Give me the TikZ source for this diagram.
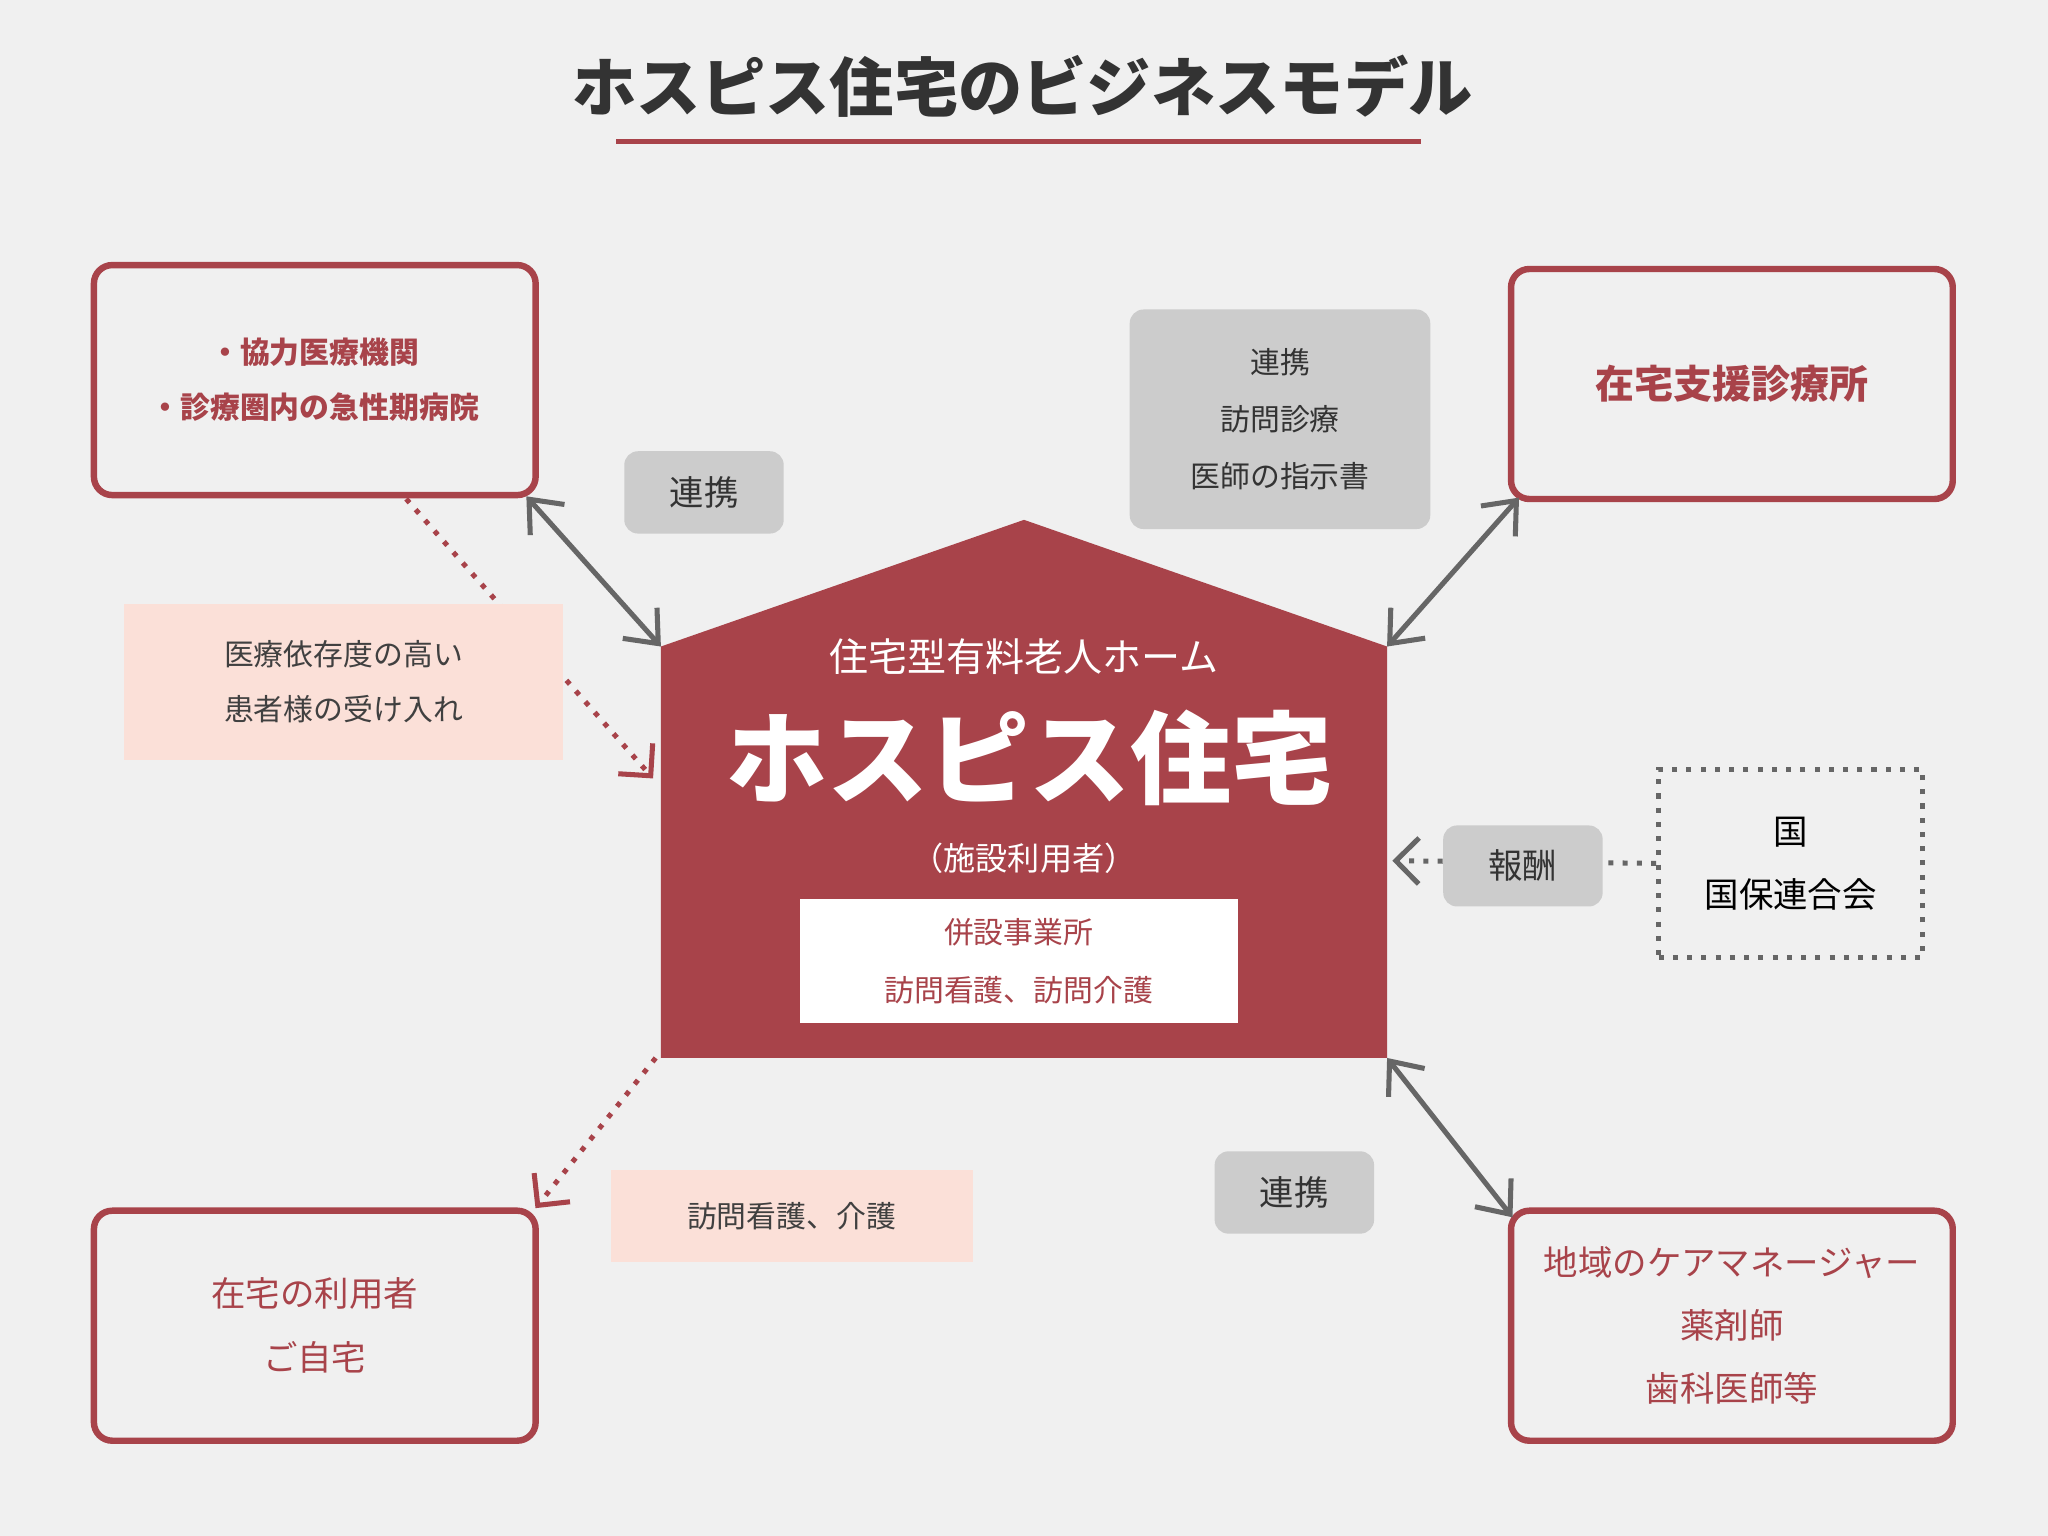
\documentclass[tikz,border=0pt]{standalone}
\usepackage{fontspec}
\setmainfont{Noto Sans CJK JP}
\usetikzlibrary{arrows.meta,positioning}
\definecolor{hred}{HTML}{A8434A}
\definecolor{bgray}{HTML}{F0F0F0}
\definecolor{lgray}{HTML}{CCCCCC}
\definecolor{pink}{HTML}{FBE0D8}
\definecolor{agray}{HTML}{666666}
\begin{document}
\begin{tikzpicture}[x=0.01cm,y=-0.01cm,
    box/.style={draw=hred,line width=1.4pt,rounded corners=4pt,
      text=hred,align=center,minimum width=3.38cm,minimum height=1.76cm},
    tag/.style={fill=lgray,rounded corners=3pt,align=center,font=\fontsize{7.5}{13}\selectfont,text=black!80},
    pinktag/.style={fill=pink,align=center,font=\fontsize{6.5}{12}\selectfont,text=black!75},
    link/.style={draw=agray,line width=1.1pt,{Straight Barb[length=6pt,width=10pt]}-{Straight Barb[length=6pt,width=10pt]}},
    redlink/.style={draw=hred,line width=1.1pt,dotted,-{Straight Barb[length=5pt,width=10pt]}},
    graylink/.style={draw=agray,line width=1.1pt,dotted,-{Straight Barb[length=5pt,width=10pt]}}]
    \fill[bgray] (0,0) rectangle (1568,1176);

    % title
    \node[text=black!80] (title) at (783,66) {\fontsize{14}{16}\selectfont\bfseries ホスピス住宅のビジネスモデル};
    \draw[hred,line width=1.1pt] (472,108) -- (1088,108);

    % house
    \fill[hred] (506,495) -- (784,398) -- (1062,495) -- (1062,810) -- (506,810) -- cycle;
    \coordinate (hTL) at (506,495);
    \coordinate (hTR) at (1062,495);
    \coordinate (hBL) at (502,810);
    \coordinate (hBR) at (1062,810);
    \coordinate (hL) at (500,596);
    \coordinate (hR) at (1066,659);
    \node[text=white] (sub) at (784,503) {\fontsize{8.5}{10}\selectfont 住宅型有料老人ホーム};
    \node[text=white] (main) at (788,580) {\fontsize{22}{26}\selectfont\bfseries ホスピス住宅};
    \node[text=white] (user) at (784,657) {\fontsize{7}{9}\selectfont （施設利用者）};
    \node[fill=white,text=hred,align=center,minimum width=3.35cm,minimum height=0.95cm,
      font=\fontsize{6.5}{12.5}\selectfont] (office) at (780,736) {併設事業所\\訪問看護、訪問介護};

    % boxes
    \node[box,font=\fontsize{6.5}{12}\selectfont\bfseries] (kyoryoku) at (241,291)
      {・協力医療機関\\ ・診療圏内の急性期病院};
    \node[box,font=\fontsize{8.5}{10}\selectfont\bfseries] (shinryo) at (1326,294) {在宅支援診療所};
    \node[box,font=\fontsize{7.5}{14}\selectfont] (jitaku) at (241,1015) {在宅の利用者\\ご自宅};
    \node[box,font=\fontsize{7.5}{13.7}\selectfont] (chiiki) at (1326,1015)
      {地域のケアマネージャー\\薬剤師\\歯科医師等};
    \node[draw=agray,line width=1.1pt,dotted,align=center,minimum width=2.02cm,minimum height=1.44cm,
      font=\fontsize{7.5}{13.7}\selectfont] (kuni) at (1371,661) {国\\国保連合会};

    % connectors
    \draw[redlink] (311,382) -- (hL);
    \draw[redlink] (hBL) -- (410,925);
    \draw[graylink] (kuni.west) -- (hR);
    \draw[link] (403,380) -- (hTL);
    \draw[link] (1163,381) -- (hTR);
    \draw[link] (hBR) -- (1158,932);

    % labels
    \node[tag,minimum width=1.22cm,minimum height=0.63cm] (renkei1) at (539,377) {連携};
    \node[tag,minimum width=2.30cm,minimum height=1.68cm,font=\fontsize{6.5}{12.5}\selectfont] (renkei2) at (980,321)
      {連携\\訪問診療\\医師の指示書};
    \node[tag,minimum width=1.22cm,minimum height=0.62cm] (hoshu) at (1166,663) {報酬};
    \node[tag,minimum width=1.22cm,minimum height=0.63cm] (renkei3) at (991,913) {連携};
    \node[pinktag,minimum width=3.36cm,minimum height=1.19cm] (ukeire) at (263,522)
      {医療依存度の高い\\患者様の受け入れ};
    \node[pinktag,minimum width=2.77cm,minimum height=0.71cm] (houmon) at (606,931) {訪問看護、介護};
\end{tikzpicture}
\end{document}
